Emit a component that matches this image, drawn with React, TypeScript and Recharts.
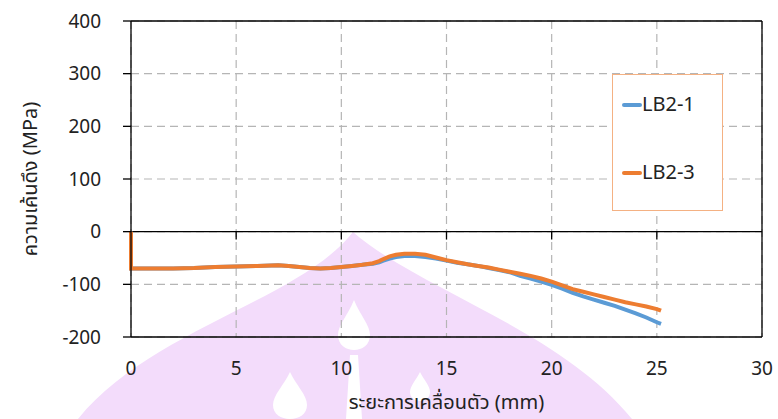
import React from 'react';
import { LineChart, Line, XAxis, YAxis, CartesianGrid, ReferenceLine } from 'recharts';

const disp = [0, 0, 0.5, 1, 2, 3, 4, 5, 6, 7, 7.5, 8, 8.5, 9, 9.5, 10, 10.5, 11, 11.5, 11.8, 12, 12.3, 12.6, 13, 13.5, 14, 14.5, 15, 15.5, 16, 16.5, 17, 17.5, 18, 18.5, 19, 19.5, 20, 20.5, 21, 21.5, 22, 22.5, 23, 23.5, 24, 24.5, 25, 25.2];

const lb21 = [0, -70, -70, -70, -70, -69, -67, -66, -65, -64, -65, -67, -69, -70, -69, -67, -65, -63, -61, -58, -55, -51, -48, -46, -46, -48, -51, -55, -59, -62, -65, -69, -73, -77, -84, -89, -95, -101, -108, -116, -123, -129, -135, -141, -148, -155, -163, -172, -175];

const lb23 = [0, -70, -70, -70, -70, -69, -67, -66, -65, -64, -65, -67, -69, -70, -69, -67, -65, -63, -60, -56, -52, -47, -44, -42, -42, -44, -49, -54, -58, -62, -65, -68, -72, -76, -80, -84, -89, -95, -102, -109, -114, -119, -124, -129, -134, -138, -142, -147, -150];

const xTicks = [0, 5, 10, 15, 20, 25, 30];
const yTicks = [-200, -100, 0, 100, 200, 300, 400];

const seriesNames = ['LB2-1', 'LB2-3'];
const seriesColors = ['#5b9bd5', '#ed7d31'];

const FONT = '"Noto Sans Thai", "Noto Sans", sans-serif';

const data1 = disp.map((d, i) => ({ disp: d, v: lb21[i] }));
const data3 = disp.map((d, i) => ({ disp: d, v: lb23[i] }));

function LegendBox() {
  return (
    <div
      style={{
        position: 'absolute',
        left: 612,
        top: 74,
        width: 111,
        height: 137,
        border: '1px solid #f4b183',
        background: '#fff',
        boxSizing: 'border-box',
        fontFamily: FONT,
        fontSize: 20,
        color: '#222',
        paddingTop: 13,
      }}
    >
      {seriesNames.map((n, i) => (
        <div key={n} style={{ display: 'flex', alignItems: 'center', height: 34, marginLeft: 9, marginBottom: i === 0 ? 34 : 0 }}>
          <span style={{ display: 'inline-block', width: 20, height: 4, borderRadius: 2, background: seriesColors[i] }} />
          <span>{n}</span>
        </div>
      ))}
    </div>
  );
}

function Watermark() {
  return (
    <svg width={778} height={419} style={{ position: 'absolute', left: 0, top: 0 }}>
      <path d="M353 232 C 300 300, 150 330, 78 419 L 632 419 C 560 330, 420 290, 353 232 Z" fill="#f3dcfb" />
      <path d="M354 300 C 348 315, 338 325, 338 335 C 338 345, 346 350, 354 350 C 362 350, 370 345, 370 335 C 370 325, 360 315, 354 300 Z" fill="#fff" />
      <path d="M350 355 L 358 355 L 362 419 L 346 419 Z" fill="#fff" />
      <path d="M290 372 C 284 385, 273 395, 273 405 C 273 414, 281 419, 290 419 C 299 419, 307 414, 307 405 C 307 395, 296 385, 290 372 Z" fill="#fff" />
      <path d="M420 372 C 416 380, 410 386, 410 392 C 410 398, 415 401, 420 401 C 425 401, 430 398, 430 392 C 430 386, 424 380, 420 372 Z" fill="#fff" />
    </svg>
  );
}

export default function App() {
  return (
    <div style={{ position: 'absolute', left: 0, top: 0, width: 778, height: 419, background: '#fff', overflow: 'hidden' }}>
      <Watermark />
      <div style={{ position: 'absolute', left: 0, top: 0 }}>
        <LineChart width={778} height={419} margin={{ top: 21, right: 16, bottom: 0, left: 0 }}>
          <CartesianGrid stroke="#b5b5b5" strokeDasharray="8 5" strokeWidth={1.2} />
          <XAxis
            type="number"
            dataKey="disp"
            domain={[0, 30]}
            ticks={xTicks}
            height={82}
            axisLine={{ stroke: '#000', strokeWidth: 1.3 }}
            tickLine={false}
            tickMargin={19}
            tick={{ fill: '#222', fontSize: 19, fontFamily: FONT }}
            allowDuplicatedCategory={false}
            label={{ value: 'ระยะการเคลื่อนตัว (mm)', position: 'insideBottom', offset: 10, fill: '#222', fontSize: 20, fontFamily: FONT }}
          />
          <YAxis
            type="number"
            domain={[-200, 400]}
            ticks={yTicks}
            width={131}
            axisLine={{ stroke: '#000', strokeWidth: 1.3 }}
            tickLine={{ stroke: '#000', strokeWidth: 1.3 }}
            tickSize={8}
            tickMargin={22}
            tick={{ fill: '#222', fontSize: 19, fontFamily: FONT }}
            tickFormatter={(v: number) => (v < 0 ? `\u2212${Math.abs(v)}` : `${v}`)}
            label={{ value: 'ความเค้นดึง (MPa)', angle: -90, position: 'center', dx: -36, fill: '#222', fontSize: 20, fontFamily: FONT }}
          />
          <ReferenceLine y={400} stroke="#000" strokeWidth={1.3} />
          <ReferenceLine x={30} stroke="#000" strokeWidth={1.3} />
          <ReferenceLine y={0} stroke="#000" strokeWidth={1.3} />
          {xTicks.slice(1, -1).map((t) => (
            <ReferenceLine key={t} segment={[{ x: t, y: 0 }, { x: t, y: -15 }]} stroke="#000" strokeWidth={1.3} />
          ))}
          <Line data={data1} dataKey="v" name={seriesNames[0]} stroke={seriesColors[0]} strokeWidth={4} dot={false} isAnimationActive={false} />
          <Line data={data3} dataKey="v" name={seriesNames[1]} stroke={seriesColors[1]} strokeWidth={4} dot={false} isAnimationActive={false} />
        </LineChart>
      </div>
      <LegendBox />
    </div>
  );
}
